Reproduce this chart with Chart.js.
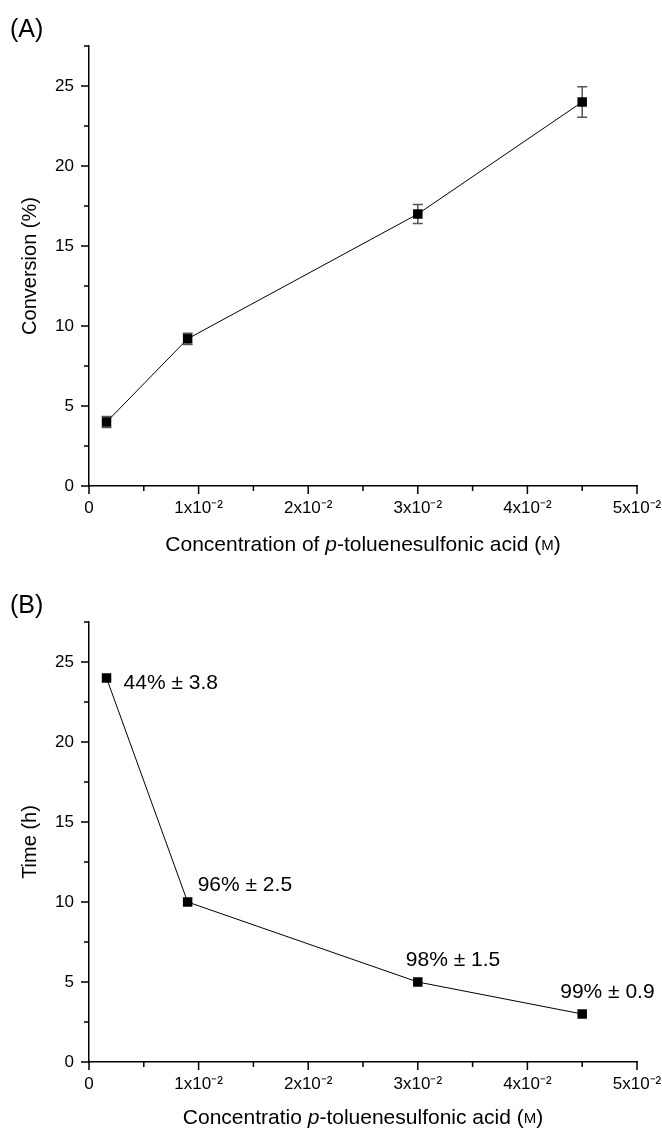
<!DOCTYPE html>
<html>
<head>
<meta charset="utf-8">
<script src="https://cdn.jsdelivr.net/npm/chart.js@4/dist/chart.umd.min.js"></script>
<style>
    html, body { margin: 0; padding: 0; background: #fff; overflow: hidden; }
    .painel { position: absolute; left: 0; width: 662px; }
    #painel-a { top: 0; height: 576px; }
    #painel-b { top: 576px; height: 552px; }
</style>
</head>
<body>
<div class="painel" id="painel-a"><canvas id="grafico-a"></canvas></div>
<div class="painel" id="painel-b"><canvas id="grafico-b"></canvas></div>
<script>
// dados
const concentracoes = [0.0016, 0.009, 0.03, 0.045];
const conversao = [4.0, 9.2, 17.0, 24.0];
const erroConversao = [0.35, 0.35, 0.6, 0.95];
const tempo = [24, 10, 5, 3];
const rendimentos = ['44% ± 3.8', '96% ± 2.5', '98% ± 1.5', '99% ± 0.9'];
const rotulosX = ['0', '1x10⁻²', '2x10⁻²', '3x10⁻²', '4x10⁻²', '5x10⁻²'];
const rotulosY = ['0', '5', '10', '15', '20', '25'];

// deslocamento (px) de cada rotulo de rendimento em relacao ao ponto
const deslocRotulos = [[17, 5], [10, -17], [-12, -22], [-22, -22]];

const FONTE = '"Liberation Sans", Arial, sans-serif';

const pluginEixos = {
    id: 'eixos',
    beforeDatasetsDraw(chart, args, opts) {
        if (!opts.erros) return;
        const { ctx, scales: { x, y } } = chart;
        ctx.save();
        ctx.strokeStyle = '#555';
        ctx.lineWidth = 1.5;
        opts.erros.forEach((e, i) => {
            const px = x.getPixelForValue(concentracoes[i]);
            const topo = y.getPixelForValue(opts.valores[i] + e);
            const base = y.getPixelForValue(opts.valores[i] - e);
            ctx.beginPath();
            ctx.moveTo(px, topo); ctx.lineTo(px, base);
            ctx.moveTo(px - 5, topo); ctx.lineTo(px + 5, topo);
            ctx.moveTo(px - 5, base); ctx.lineTo(px + 5, base);
            ctx.stroke();
        });
        ctx.restore();
    },
    afterDraw(chart, args, opts) {
        const { ctx, chartArea: area, scales: { x, y } } = chart;
        ctx.save();
        ctx.strokeStyle = '#000';
        ctx.lineWidth = 1.5;
        ctx.beginPath();
        x.ticks.forEach(t => {
            const px = x.getPixelForValue(t.value);
            const tam = t.label ? 8 : 5;
            ctx.moveTo(px, area.bottom); ctx.lineTo(px, area.bottom + tam);
        });
        y.ticks.forEach(t => {
            const py = y.getPixelForValue(t.value);
            const tam = t.label ? 8 : 5;
            ctx.moveTo(area.left, py); ctx.lineTo(area.left - tam, py);
        });
        ctx.stroke();

        ctx.fillStyle = '#000';
        ctx.textBaseline = 'middle';

        // titulo do eixo x com partes em italico / versalete
        const fontes = {
            normal: `21px ${FONTE}`,
            italico: `italic 21px ${FONTE}`,
            pequeno: `15px ${FONTE}`
        };
        const larguras = opts.tituloX.map(([txt, f]) => { ctx.font = fontes[f]; return ctx.measureText(txt).width; });
        let cx = (area.left + area.right) / 2 - larguras.reduce((a, b) => a + b, 0) / 2;
        ctx.textAlign = 'left';
        opts.tituloX.forEach(([txt, f], i) => {
            ctx.font = fontes[f];
            ctx.fillText(txt, cx, area.bottom + opts.distTitulo + (f === 'pequeno' ? 1 : 0));
            cx += larguras[i];
        });

        // titulo do eixo y
        ctx.save();
        ctx.translate(30, (area.top + area.bottom) / 2);
        ctx.rotate(-Math.PI / 2);
        ctx.textAlign = 'center';
        ctx.font = `20px ${FONTE}`;
        ctx.fillText(opts.tituloY, 0, 0);
        ctx.restore();

        // letra do painel
        ctx.font = `25px ${FONTE}`;
        ctx.textAlign = 'left';
        ctx.fillText(opts.painel, 10, 30);

        // rotulos de rendimento
        if (opts.rotulos) {
            ctx.font = `21px ${FONTE}`;
            opts.rotulos.forEach((txt, i) => {
                const px = x.getPixelForValue(concentracoes[i]);
                const py = y.getPixelForValue(opts.valores[i]);
                ctx.fillText(txt, px + deslocRotulos[i][0], py + deslocRotulos[i][1]);
            });
        }
        ctx.restore();
    }
};

function criarPainel(id, altura, valores, opcoesPainel) {
    const canvas = document.getElementById(id);
    return new Chart(canvas, {
        type: 'line',
        data: {
            datasets: [{
                data: concentracoes.map((c, i) => ({ x: c, y: valores[i] })),
                borderColor: '#000',
                borderWidth: 1,
                pointStyle: 'rect',
                pointRadius: 6.7,
                pointBackgroundColor: '#000',
                pointBorderWidth: 0,
                tension: 0
            }]
        },
        options: {
            responsive: true,
            maintainAspectRatio: false,
            animation: false,
            layout: { padding: { top: 46, left: 0, right: 25, bottom: 0 } },
            plugins: {
                legend: { display: false },
                tooltip: { enabled: false },
                eixos: { valores, ...opcoesPainel }
            },
            scales: {
                x: {
                    type: 'linear',
                    min: 0,
                    max: 0.05,
                    border: { display: true, color: '#000', width: 1.5 },
                    grid: { display: false, drawTicks: false },
                    ticks: {
                        stepSize: 0.005,
                        autoSkip: false,
                        maxRotation: 0,
                        padding: 12,
                        color: '#000',
                        font: { family: FONTE, size: 17 },
                        callback: v => {
                            const k = Math.round(v / 0.005);
                            return k % 2 ? '' : rotulosX[k / 2];
                        }
                    },
                    afterFit: s => { s.height = altura - 486; s.paddingLeft = 0; s.paddingRight = 0; }
                },
                y: {
                    min: 0,
                    max: 27.5,
                    border: { display: true, color: '#000', width: 1.5 },
                    grid: { display: false, drawTicks: false },
                    ticks: {
                        stepSize: 2.5,
                        autoSkip: false,
                        padding: 15,
                        color: '#000',
                        font: { family: FONTE, size: 17 },
                        callback: v => {
                            const k = Math.round(v / 2.5);
                            return k % 2 ? '' : rotulosY[k / 2];
                        }
                    },
                    afterFit: s => { s.width = 89; s.paddingTop = 0; s.paddingBottom = 0; }
                }
            }
        },
        plugins: [pluginEixos]
    });
}

criarPainel('grafico-a', 576, conversao, {
    painel: '(A)',
    erros: erroConversao,
    tituloY: 'Conversion (%)',
    distTitulo: 59,
    tituloX: [['Concentration of ', 'normal'], ['p', 'italico'], ['-toluenesulfonic acid (', 'normal'], ['M', 'pequeno'], [')', 'normal']]
});

criarPainel('grafico-b', 552, tempo, {
    painel: '(B)',
    rotulos: rendimentos,
    tituloY: 'Time (h)',
    distTitulo: 56,
    tituloX: [['Concentratio ', 'normal'], ['p', 'italico'], ['-toluenesulfonic acid (', 'normal'], ['M', 'pequeno'], [')', 'normal']]
});
</script>
</body>
</html>
